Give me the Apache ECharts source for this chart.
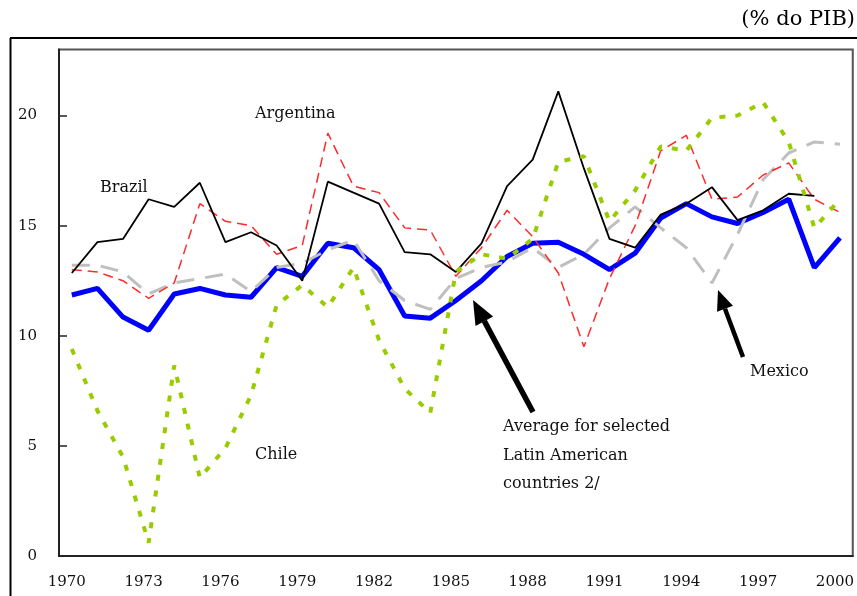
<!DOCTYPE html>
<html>
<head>
<meta charset="utf-8">
<script src="https://cdn.jsdelivr.net/npm/echarts@6/dist/echarts.min.js"></script>
<style>
  html, body { margin: 0; padding: 0; background: #fff; }
  #chart { width: 857px; height: 596px; }
</style>
</head>
<body>
<div id="chart"></div>
<script>
var years = [];
for (var y = 1970; y <= 2000; y++) years.push(String(y));

var brazil = [12.85, 14.25, 14.4, 16.2, 15.85, 16.95, 14.25, 14.7, 14.1, 12.5,
              17.0, 16.5, 16.0, 13.8, 13.7, 12.9, 14.2, 16.8, 18.0, 21.1,
              17.6, 14.4, 14.0, 15.5, 16.0, 16.75, 15.25, 15.7, 16.45, 16.35, null];
var argentina = [13.0, 12.9, 12.5, 11.7, 12.4, 16.0, 15.2, 15.0, 13.7, 14.1,
                 19.2, 16.8, 16.5, 14.9, 14.8, 12.7, 14.0, 15.7, 14.5, 12.85,
                 9.5, 12.6, 15.0, 18.4, 19.1, 16.2, 16.3, 17.3, 17.85, 16.2, 15.6];
var chile = [9.4, 6.6, 4.5, 0.6, 8.65, 3.55, 4.9, 7.3, 11.4, 12.3,
             11.3, 13.1, 9.8, 7.6, 6.5, 12.9, 13.7, 13.5, 14.4, 17.9,
             18.15, 15.2, 16.6, 18.6, 18.4, 19.9, 20.0, 20.6, 18.8, 14.9, 16.2];
var mexico = [13.2, 13.2, 12.9, 11.9, 12.4, 12.6, 12.8, 12.0, 13.1, 13.3,
              13.9, 14.35, 12.5, 11.6, 11.2, 12.6, 13.1, 13.35, 14.0, 13.1,
              13.7, 14.9, 15.85, 14.9, 14.0, 12.4, 14.6, 17.1, 18.3, 18.8, 18.7];
var average = [11.85, 12.15, 10.85, 10.25, 11.9, 12.15, 11.85, 11.75, 13.1, 12.7,
               14.2, 14.0, 13.0, 10.9, 10.8, 11.6, 12.5, 13.6, 14.2, 14.25,
               13.7, 13.0, 13.75, 15.35, 16.0, 15.4, 15.1, 15.6, 16.2, 13.1, 14.45];

var serif = '"DejaVu Serif", "Liberation Serif", serif';

// flecha: cola (x1,y1) -> punta (x2,y2)
function arrow(x1, y1, x2, y2, w, hl, hw) {
    var dx = x2 - x1, dy = y2 - y1;
    var len = Math.sqrt(dx * dx + dy * dy);
    var ux = dx / len, uy = dy / len;
    var bx = x2 - ux * hl, by = y2 - uy * hl;
    var nx = -uy, ny = ux;
    return [
        { type: 'line', shape: { x1: x1, y1: y1, x2: bx, y2: by },
          style: { stroke: '#000', lineWidth: w } },
        { type: 'polygon', shape: { points: [[x2, y2], [bx + nx * hw, by + ny * hw], [bx - nx * hw, by - ny * hw]] },
          style: { fill: '#000' } }
    ];
}

function label(text, x, y) {
    return { type: 'text', x: x, y: y,
             style: { text: text, fontFamily: serif, fontSize: 16, fill: '#111',
                      textAlign: 'left', textVerticalAlign: 'middle' } };
}

var graphics = [
    { type: 'line', shape: { x1: 10, y1: 38, x2: 857, y2: 38 }, style: { stroke: '#000', lineWidth: 2 } },
    { type: 'line', shape: { x1: 10.5, y1: 38, x2: 10.5, y2: 596 }, style: { stroke: '#000', lineWidth: 2 } },
    { type: 'text', x: 855, y: 20,
      style: { text: '(% do PIB)', fontFamily: serif, fontSize: 21, fill: '#000',
               textAlign: 'right', textVerticalAlign: 'middle' } },
    label('Brazil', 100, 188),
    label('Argentina', 255, 114),
    label('Chile', 255, 455),
    label('Mexico', 750, 372),
    label('Average for selected', 503, 427),
    label('Latin American', 503, 456),
    label('countries 2/', 503, 484)
].concat(arrow(533, 412, 473, 300, 5.5, 24, 10))
 .concat(arrow(743, 357, 718, 290, 4.5, 20, 8.5));

var option = {
    animation: false,
    backgroundColor: '#fff',
    grid: {
        left: 59,
        right: 1.5,
        top: 49.5,
        bottom: 40,
        show: true,
        borderColor: '#555',
        borderWidth: 2
    },
    xAxis: {
        type: 'category',
        data: years,
        boundaryGap: true,
        axisLine: { lineStyle: { color: '#222', width: 2 } },
        axisTick: { inside: true, length: 5, interval: 0, lineStyle: { color: '#222', width: 1.5 } },
        axisLabel: {
            interval: 2,
            margin: 19,
            padding: [0, 10, 0, 0],
            fontFamily: serif,
            fontSize: 15,
            color: '#111'
        },
        splitLine: { show: false }
    },
    yAxis: {
        type: 'value',
        min: 0,
        max: 23,
        interval: 5,
        axisLine: { show: true, lineStyle: { color: '#222', width: 2 } },
        axisTick: { show: true, inside: true, length: 8, lineStyle: { color: '#222', width: 1.5 } },
        axisLabel: {
            showMaxLabel: false,
            margin: 22,
            fontFamily: serif,
            fontSize: 15,
            color: '#111'
        },
        splitLine: { show: false }
    },
    series: [
        {
            name: 'Average', type: 'line', data: average, showSymbol: false,
            lineStyle: { color: '#0000ff', width: 5 }
        },
        {
            name: 'Mexico', type: 'line', data: mexico, showSymbol: false,
            lineStyle: { color: '#bfbfbf', width: 3, type: [18, 11] }
        },
        {
            name: 'Argentina', type: 'line', data: argentina, showSymbol: false,
            lineStyle: { color: '#ff2a2a', width: 1.5, type: [10, 6] }
        },
        {
            name: 'Brazil', type: 'line', data: brazil, showSymbol: false,
            lineStyle: { color: '#000', width: 1.8 }
        },
        {
            name: 'Chile', type: 'line', data: chile, showSymbol: false,
            lineStyle: { color: '#99cc00', width: 4, type: [6, 10] }
        }
    ],
    graphic: graphics
};

var myChart = echarts.init(document.getElementById('chart'));
myChart.setOption(option);
</script>
</body>
</html>
